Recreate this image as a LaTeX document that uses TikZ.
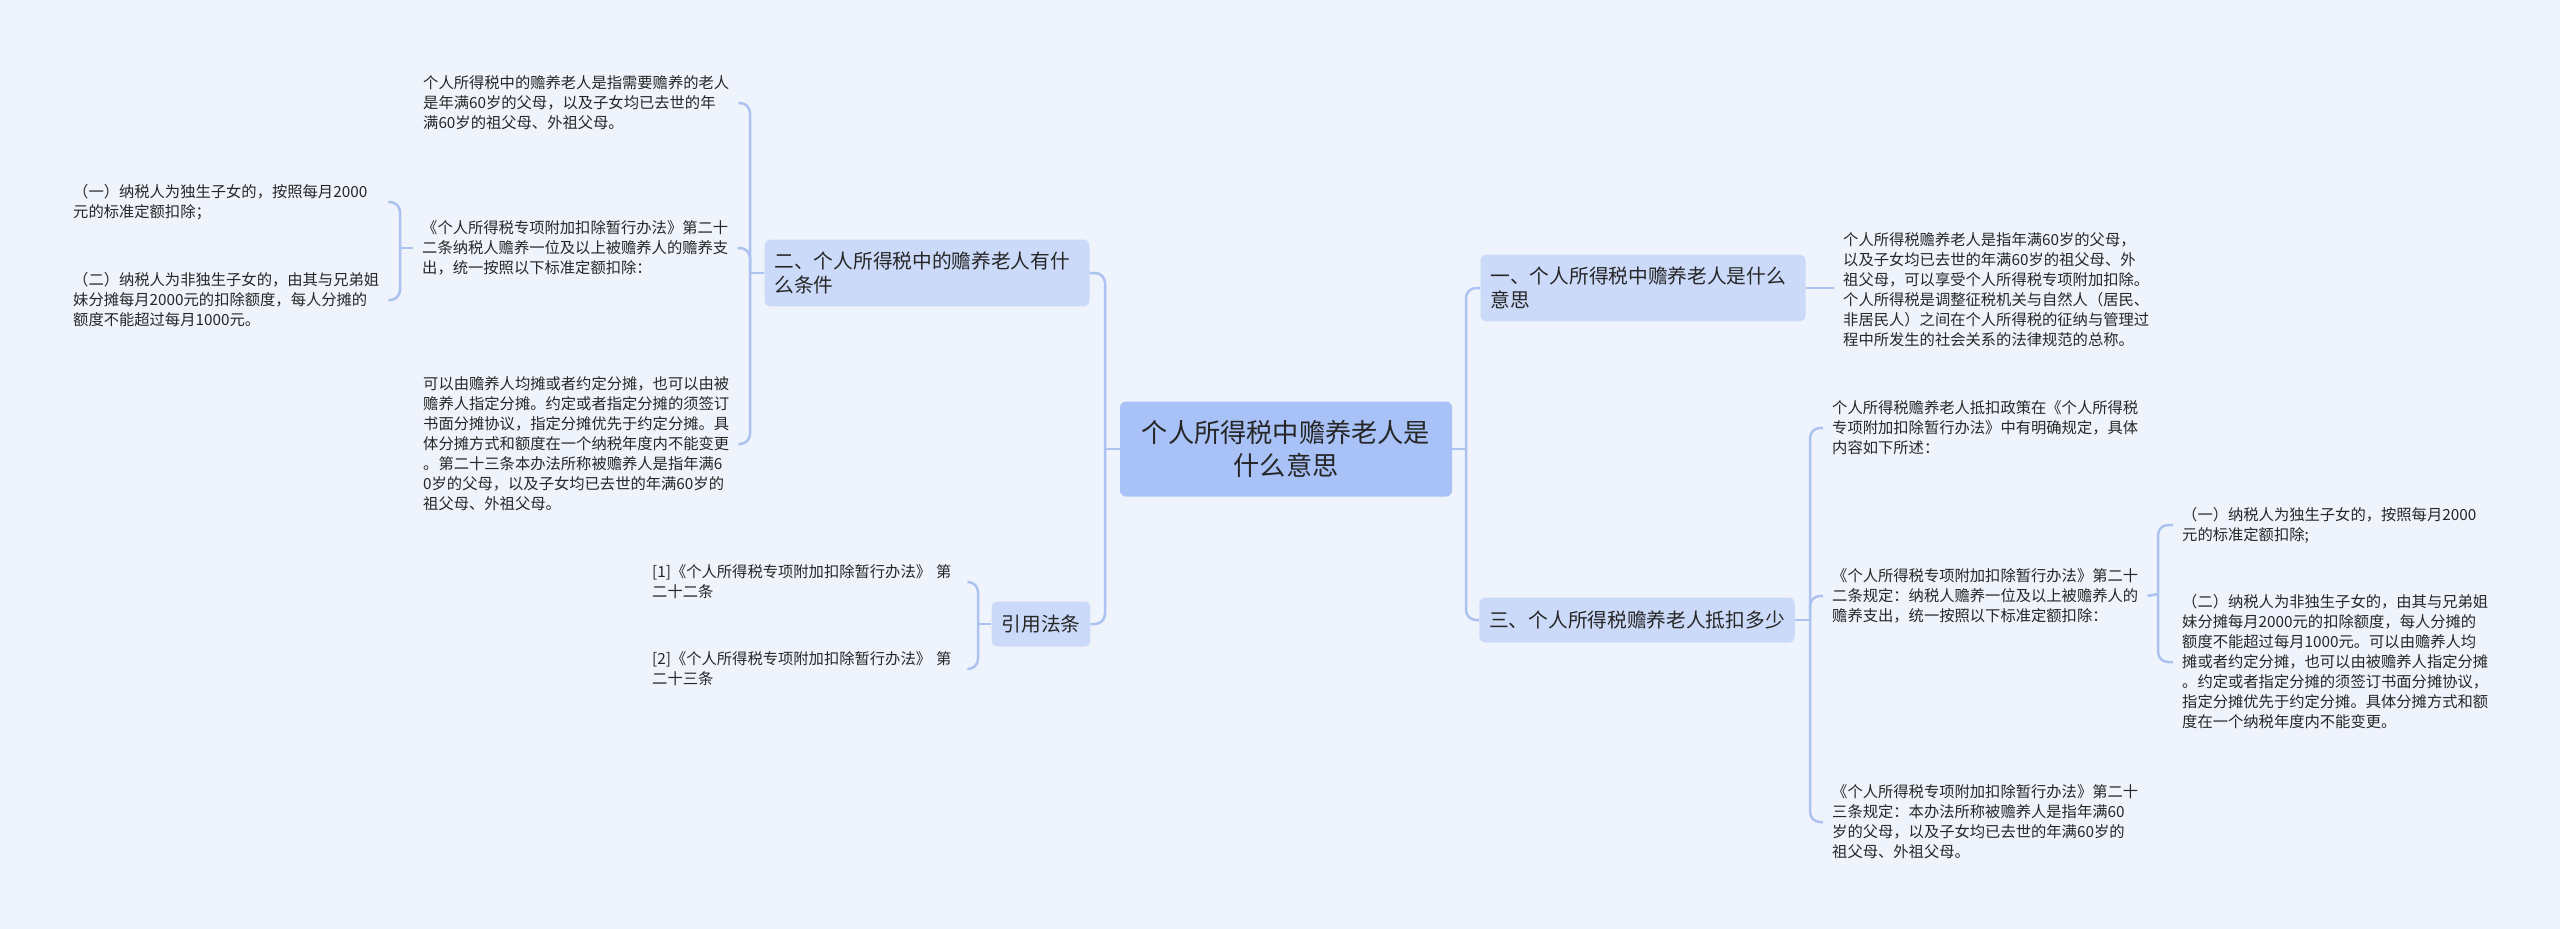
\documentclass[tikz,border=0pt]{standalone}
\usepackage{fontspec}
\setmainfont{Noto Sans CJK SC}
\definecolor{bgcol}{RGB}{239,243,252}
\definecolor{rootcol}{RGB}{168,193,247}
\definecolor{brcol}{RGB}{204,218,249}
\definecolor{linecol}{RGB}{172,194,240}
\definecolor{txtcol}{RGB}{38,38,38}

\begin{document}
\begin{tikzpicture}[x=1pt,y=-1pt,
    link/.style={draw=linecol,line width=2.5pt,rounded corners=10pt},
    rootbox/.style={fill=rootcol,rounded corners=6pt,align=center,minimum width=332pt,minimum height=95pt,inner sep=0pt,text=txtcol,font=\fontsize{26.2}{33}\selectfont},
    branch/.style={fill=brcol,rounded corners=6pt,inner xsep=10pt,inner ysep=12pt,minimum height=45pt,text=txtcol,font=\fontsize{19.7}{24.5}\selectfont},
    leaf/.style={anchor=west,text width=306pt,align=left,inner xsep=9pt,inner ysep=2pt,text=txtcol,font=\fontsize{15.3}{20}\selectfont}]
    \fill[bgcol] (0,0) rectangle (2560,929);
    \useasboundingbox (0,0) rectangle (2560,929);

    % central topic
    \node[rootbox] (root) at (1286,449) {个人所得税中赡养老人是\\什么意思};

    % main branches
    \node[branch,text width=305pt,align=left] (br1) at (1643,288) {一、个人所得税中赡养老人是什么\\意思};
    \node[branch,text width=305pt,align=left] (br2) at (927,273) {二、个人所得税中的赡养老人有什\\么条件};
    \node[branch] (br3) at (1637,620) {三、个人所得税赡养老人抵扣多少};
    \node[branch] (br4) at (1041,624) {引用法条};

    % left side texts
    \node[leaf] (A) at (414,103) {个人所得税中的赡养老人是指需要赡养的老人\\是年满60岁的父母，以及子女均已去世的年\\满60岁的祖父母、外祖父母。};
    \node[leaf] (B) at (413,248) {《个人所得税专项附加扣除暂行办法》第二十\\二条纳税人赡养一位及以上被赡养人的赡养支\\出，统一按照以下标准定额扣除：};
    \node[leaf] (C) at (414,444) {可以由赡养人均摊或者约定分摊，也可以由被\\赡养人指定分摊。约定或者指定分摊的须签订\\书面分摊协议，指定分摊优先于约定分摊。具\\体分摊方式和额度在一个纳税年度内不能变更\\。第二十三条本办法所称被赡养人是指年满6\\0岁的父母，以及子女均已去世的年满60岁的\\祖父母、外祖父母。};
    \node[leaf] (B1) at (64,202) {（一）纳税人为独生子女的，按照每月2000\\元的标准定额扣除；};
    \node[leaf] (B2) at (64,300) {（二）纳税人为非独生子女的，由其与兄弟姐\\妹分摊每月2000元的扣除额度，每人分摊的\\额度不能超过每月1000元。};
    \node[leaf] (R1) at (643,582) {[1]《个人所得税专项附加扣除暂行办法》~第\\二十二条};
    \node[leaf] (R2) at (643,669) {[2]《个人所得税专项附加扣除暂行办法》~第\\二十三条};

    % right side texts
    \node[leaf] (L1) at (1834,290) {个人所得税赡养老人是指年满60岁的父母，\\以及子女均已去世的年满60岁的祖父母、外\\祖父母，可以享受个人所得税专项附加扣除。\\个人所得税是调整征税机关与自然人（居民、\\非居民人）之间在个人所得税的征纳与管理过\\程中所发生的社会关系的法律规范的总称。};
    \node[leaf] (C1) at (1823,428) {个人所得税赡养老人抵扣政策在《个人所得税\\专项附加扣除暂行办法》中有明确规定，具体\\内容如下所述：};
    \node[leaf] (C2) at (1823,596) {《个人所得税专项附加扣除暂行办法》第二十\\二条规定：纳税人赡养一位及以上被赡养人的\\赡养支出，统一按照以下标准定额扣除：};
    \node[leaf] (C3) at (1823,822) {《个人所得税专项附加扣除暂行办法》第二十\\三条规定：本办法所称被赡养人是指年满60\\岁的父母，以及子女均已去世的年满60岁的\\祖父母、外祖父母。};
    \node[leaf] (S1) at (2173,525) {（一）纳税人为独生子女的，按照每月2000\\元的标准定额扣除;};
    \node[leaf] (S2) at (2173,662) {（二）纳税人为非独生子女的，由其与兄弟姐\\妹分摊每月2000元的扣除额度，每人分摊的\\额度不能超过每月1000元。可以由赡养人均\\摊或者约定分摊，也可以由被赡养人指定分摊\\。约定或者指定分摊的须签订书面分摊协议，\\指定分摊优先于约定分摊。具体分摊方式和额\\度在一个纳税年度内不能变更。};

    % junctions
    \coordinate (jL) at (1105,449);
    \coordinate (jR) at (1466,449);
    \coordinate (j2) at (750,273);
    \coordinate (jB) at (400,248);
    \coordinate (j4) at (978,624);
    \coordinate (j3) at (1810,620);
    \coordinate (jC2) at (2158,594);

    % connectors
    \draw[link] (root.west) -- (jL);
    \draw[link] (root.east) -- (jR);
    \foreach \n in {br2,br4} \draw[link] (jL) |- (\n.east);
    \foreach \n in {br1,br3} \draw[link] (jR) |- (\n.west);
    \draw[link] (br1.east) -- (br1.east -| L1.west);
    \draw[link] (br2.west) -- (j2);
    \foreach \n in {A,B,C} \draw[link] (j2) |- (\n.east);
    \draw[link] (B.west) -- (jB);
    \foreach \n in {B1,B2} \draw[link] (jB) |- (\n.east);
    \draw[link] (br4.west) -- (j4);
    \foreach \n in {R1,R2} \draw[link] (j4) |- (\n.east);
    \draw[link] (br3.east) -- (j3);
    \foreach \n in {C1,C2,C3} \draw[link] (j3) |- (\n.west);
    \draw[link] (C2.east) -- (jC2);
    \foreach \n in {S1,S2} \draw[link] (jC2) |- (\n.west);
\end{tikzpicture}
\end{document}
